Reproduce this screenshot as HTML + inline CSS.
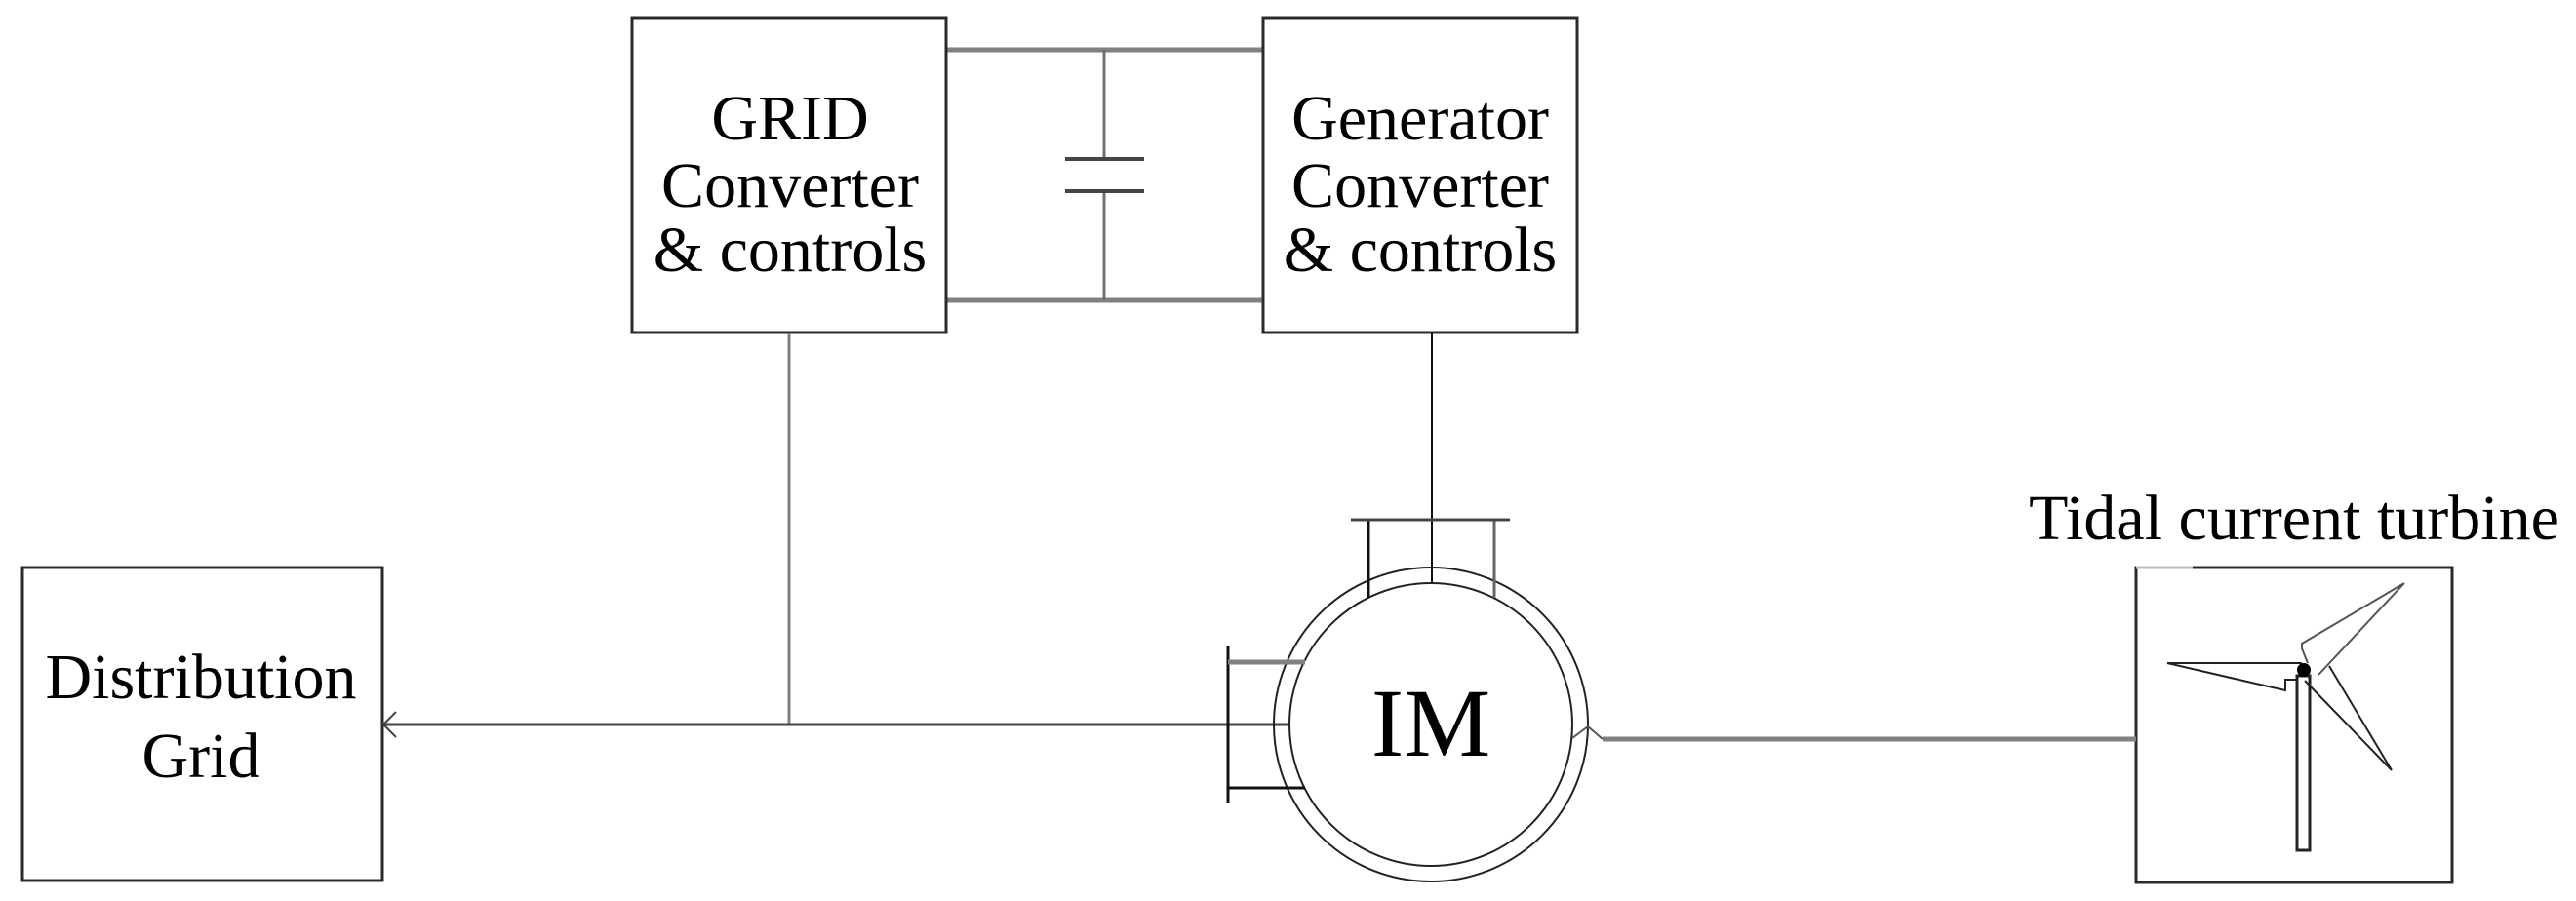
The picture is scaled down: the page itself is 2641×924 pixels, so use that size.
<!DOCTYPE html>
<html><head><meta charset="utf-8"><style>
html,body{margin:0;padding:0;background:#fff;}
svg{display:block;}
text{font-family:"Liberation Serif",serif;fill:#000;}
</style></head><body>
<svg width="2641" height="924" viewBox="0 0 2641 924" xmlns="http://www.w3.org/2000/svg">
<g stroke="#808080" stroke-width="5" fill="none">
<line x1="970" y1="51" x2="1295" y2="51"/>
<line x1="970" y1="308" x2="1295" y2="308"/>
</g>
<g stroke="#707070" stroke-width="3" fill="none">
<line x1="1132" y1="51" x2="1132" y2="163"/>
<line x1="1132" y1="196" x2="1132" y2="308"/>
</g>
<g stroke="#444" stroke-width="4">
<line x1="1092" y1="163" x2="1173" y2="163"/>
<line x1="1092" y1="196" x2="1173" y2="196"/>
</g>
<g stroke="#2a2a2a" stroke-width="3" fill="none">
<rect x="648" y="18" width="322" height="323"/>
<rect x="1295" y="18" width="322" height="323"/>
<rect x="23" y="582" width="369" height="321"/>
<rect x="2190" y="582" width="324" height="323"/>
</g>
<line x1="2190" y1="582" x2="2248" y2="582" stroke="#bbb" stroke-width="3"/>
<g font-size="66" text-anchor="middle">
<text x="810" y="143">GRID</text>
<text x="810" y="212">Converter</text>
<text x="810" y="278">&amp; controls</text>
<text x="1456" y="143">Generator</text>
<text x="1456" y="212">Converter</text>
<text x="1456" y="278">&amp; controls</text>
<text x="206" y="716">Distribution</text>
<text x="206" y="797">Grid</text>
<text x="2352" y="553">Tidal current turbine</text>
</g>
<text x="1467" y="775" font-size="100" text-anchor="middle">IM</text>
<line x1="809" y1="341" x2="809" y2="743" stroke="#808080" stroke-width="3"/>
<line x1="1468" y1="341" x2="1468" y2="597" stroke="#111" stroke-width="2"/>
<line x1="392" y1="743" x2="1322" y2="743" stroke="#444" stroke-width="3"/>
<path d="M406 730 L393 743 L406 756" stroke="#444" stroke-width="2" fill="none"/>
<g stroke="#222" stroke-width="2" fill="none">
<circle cx="1467" cy="743" r="161"/>
<circle cx="1467" cy="743" r="145"/>
</g>
<g stroke="#111" stroke-width="3" fill="none">
<line x1="1259" y1="663" x2="1259" y2="823"/>
<line x1="1259" y1="808" x2="1338" y2="808"/>
<line x1="1403" y1="533" x2="1403" y2="613"/>
</g>
<line x1="1259" y1="679" x2="1338" y2="679" stroke="#808080" stroke-width="5"/>
<line x1="1532" y1="533" x2="1532" y2="613" stroke="#666" stroke-width="3"/>
<line x1="1385" y1="533" x2="1548" y2="533" stroke="#444" stroke-width="3"/>
<line x1="1643" y1="758" x2="2190" y2="758" stroke="#808080" stroke-width="5"/>
<path d="M1612 757 L1628 745 L1643 758" stroke="#555" stroke-width="2" fill="none"/>
<g stroke="#222" stroke-width="2" fill="none">
<rect x="2355" y="693" width="13" height="179" stroke-width="3"/>
<path d="M2222 680 L2360 680 M2222 680 L2343 708 L2343 697 L2356 697"/>
<path d="M2465 598 L2360 660 L2360 665 L2366 680 M2465 598 L2377 692" stroke="#555"/>
<path d="M2452 790 L2388 683 M2452 790 L2363 698"/>
</g>
<circle cx="2362" cy="687" r="7" fill="#000"/>
</svg>
</body></html>
